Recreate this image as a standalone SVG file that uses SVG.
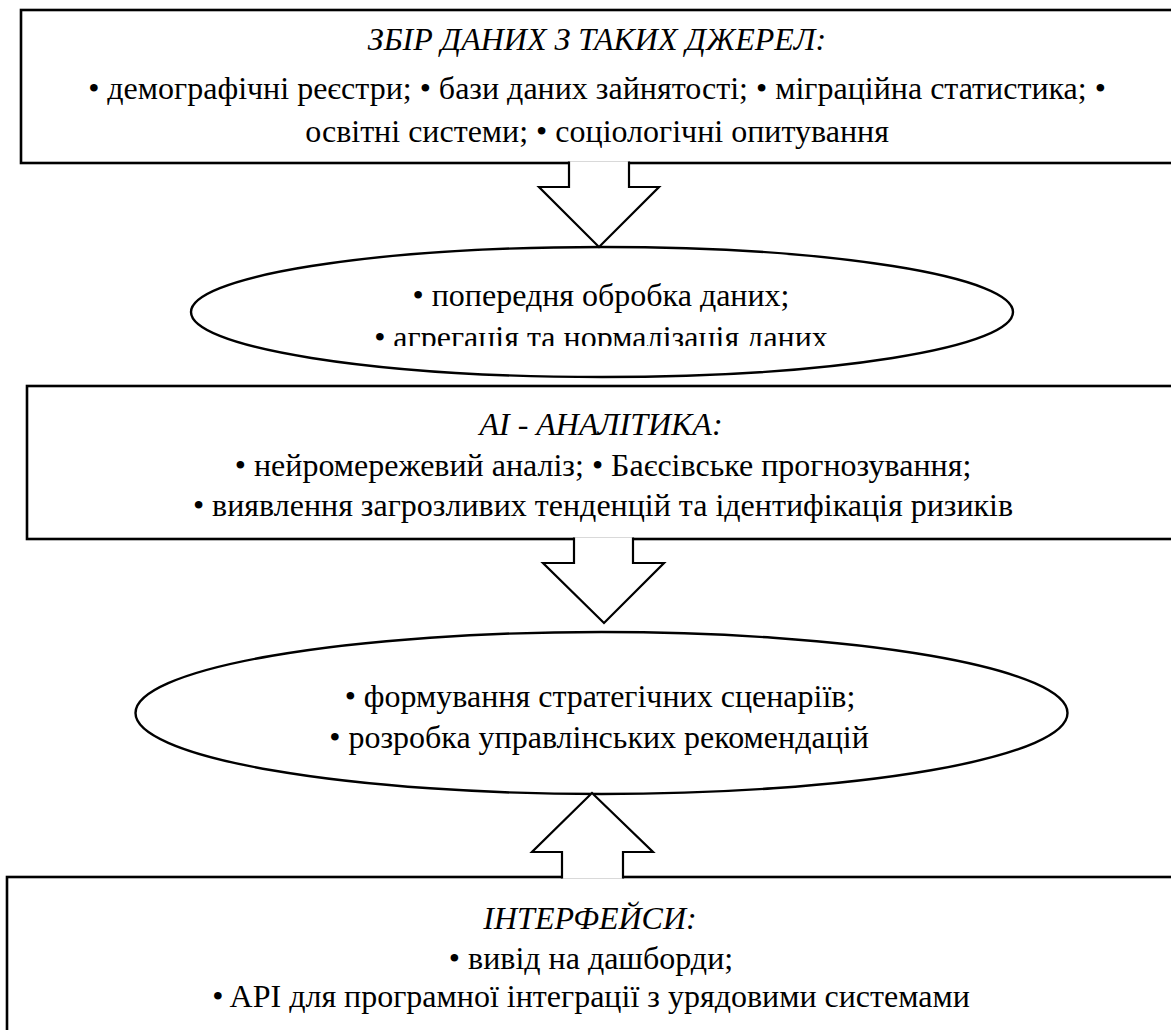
<svg xmlns="http://www.w3.org/2000/svg" width="1171" height="1030" viewBox="0 0 1171 1030">
  <style>
    .box { fill: #fff; stroke: #000; stroke-width: 2.6; }
    .oval { fill: #fff; stroke: #000; stroke-width: 2.4; }
    .arrow { fill: #fff; stroke: #000; stroke-width: 2.2; stroke-linejoin: miter; }
    .lbl { font-family: "Liberation Serif", "Times New Roman", serif; font-size: 32px; fill: #000; text-anchor: middle; }
    .title { font-style: italic; }
  </style>
  <defs>
    <clipPath id="oval1-clip">
      <rect x="150" y="240" width="900" height="106"/>
    </clipPath>
  </defs>
  <rect width="1171" height="1030" fill="#fff"/>

  <!-- data sources -->
  <g id="sources">
    <rect class="box" x="21" y="10" width="1200" height="153"/>
    <text class="lbl title" x="597" y="50">ЗБІР ДАНИХ З ТАКИХ ДЖЕРЕЛ:</text>
    <text class="lbl" x="597" y="99">• демографічні реєстри; • бази даних зайнятості; • міграційна статистика; •</text>
    <text class="lbl" x="597" y="142">освітні системи; • соціологічні опитування</text>
  </g>

  <!-- preprocessing -->
  <g id="preprocessing">
    <ellipse class="oval" cx="602" cy="312" rx="411" ry="65"/>
    <g clip-path="url(#oval1-clip)">
      <text class="lbl" x="601" y="306">• попередня обробка даних;</text>
      <text class="lbl" x="601" y="348">• агрегація та нормалізація даних</text>
    </g>
  </g>

  <!-- AI analytics -->
  <g id="analytics">
    <rect class="box" x="27" y="386" width="1200" height="153"/>
    <text class="lbl title" x="601" y="435">AI - АНАЛІТИКА:</text>
    <text class="lbl" x="603" y="476">• нейромережевий аналіз; • Баєсівське прогнозування;</text>
    <text class="lbl" x="603" y="516">• виявлення загрозливих тенденцій та ідентифікація ризиків</text>
  </g>

  <!-- scenarios -->
  <g id="scenarios">
    <ellipse class="oval" cx="601.5" cy="713" rx="466" ry="81"/>
    <text class="lbl" x="600" y="707">• формування стратегічних сценаріїв;</text>
    <text class="lbl" x="599" y="748">• розробка управлінських рекомендацій</text>
  </g>

  <!-- interfaces -->
  <g id="interfaces">
    <rect class="box" x="7" y="877" width="1200" height="200"/>
    <text class="lbl title" x="590" y="929">ІНТЕРФЕЙСИ:</text>
    <text class="lbl" x="591" y="969">• вивід на дашборди;</text>
    <text class="lbl" x="591" y="1007">• API для програмної інтеграції з урядовими системами</text>
  </g>

  <!-- block arrows -->
  <g id="connectors">
    <path class="arrow" d="M569,161.5 V187 H539 L599,247 L659,187 H629 V161.5"/>
    <path class="arrow" d="M574,537.5 V563 H543 L604,623 L664,563 H633 V537.5"/>
    <path class="arrow" d="M562,878.5 V852 H532 L592,793 L653,852 H623 V878.5"/>
  </g>
</svg>
